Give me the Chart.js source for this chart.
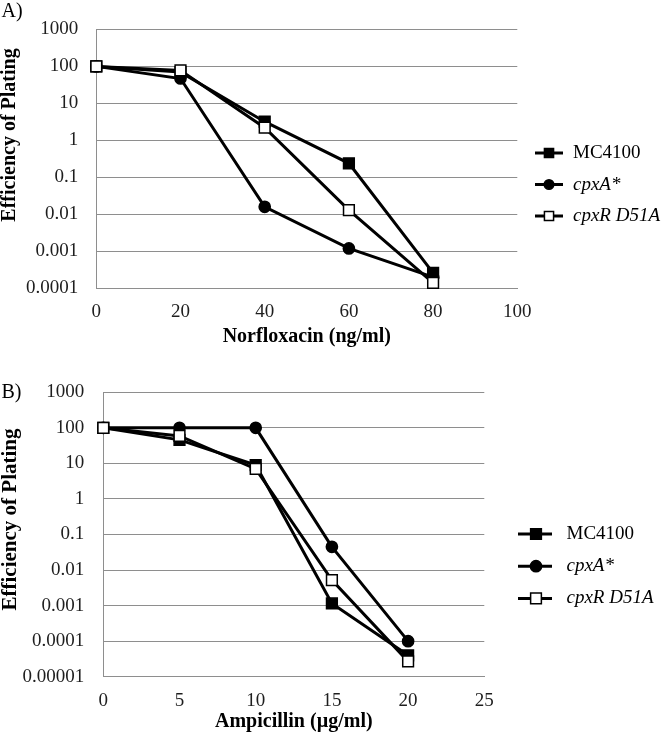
<!DOCTYPE html>
<html>
<head>
<meta charset="utf-8">
<script src="https://cdn.jsdelivr.net/npm/chart.js@4.4.0/dist/chart.umd.min.js"></script>
<style>
  html, body { margin: 0; padding: 0; background: #ffffff; }
  #wrapA { position: absolute; left: 0; top: 0; width: 666px; height: 360px; }
  #wrapB { position: absolute; left: 0; top: 360px; width: 666px; height: 378px; }
  canvas { display: block; }
</style>
</head>
<body>
<div id="wrapA"><canvas id="chartA" width="666" height="360"></canvas></div>
<div id="wrapB"><canvas id="chartB" width="666" height="378"></canvas></div>
<script>
// ---------------- data ----------------
const seriesNames = ['MC4100', 'cpxA*', 'cpxR D51A'];
const seriesItalic = [false, true, true];

// Panel A: Norfloxacin (ng/ml)
const norfloxacinDoses = [0, 20, 40, 60, 80];
const norMC4100 = [100, 70, 3.2, 0.24, 0.00026];
const norCpxA   = [100, 47, 0.016, 0.0012, 0.0002];
const norCpxR   = [100, 78, 2.2, 0.013, 0.00014];
const xTicksA = [0, 20, 40, 60, 80, 100];
const yTicksA = [0.0001, 0.001, 0.01, 0.1, 1, 10, 100, 1000];
const yTickLabelsA = ['0.0001', '0.001', '0.01', '0.1', '1', '10', '100', '1000'];

// Panel B: Ampicillin (µg/ml)
const ampicillinDoses = [0, 5, 10, 15, 20];
const ampMC4100 = [100, 46, 9, 0.00115, 0.00004];
const ampCpxA   = [100, 100, 100, 0.045, 0.0001];
const ampCpxR   = [100, 59, 7, 0.0052, 0.000027];
const xTicksB = [0, 5, 10, 15, 20, 25];
const yTicksB = [0.00001, 0.0001, 0.001, 0.01, 0.1, 1, 10, 100, 1000];
const yTickLabelsB = ['0.00001', '0.0001', '0.001', '0.01', '0.1', '1', '10', '100', '1000'];

// ---------------- styles ----------------
const SERIF = '"Liberation Serif", "Times New Roman", serif';
const GRID = '#8e8e8e';
const TICK_COLOR = '#1e1e1e';
const seriesPointStyle = ['rect', 'circle', 'rect'];
const seriesPointRadius = [7.6, 5.6, 7.6];
const seriesFill = ['#000000', '#000000', '#ffffff'];
const seriesOrder = [2, 1, 0];

const decorPlugin = {
  id: 'decor',
  afterDraw(chart, args, o) {
    const ctx = chart.ctx;
    ctx.save();
    // panel letter
    ctx.fillStyle = '#000';
    ctx.font = '20px ' + SERIF;
    ctx.textAlign = 'left';
    ctx.textBaseline = 'alphabetic';
    ctx.fillText(o.panel, o.panelX, o.panelY);
    // y-axis title
    ctx.save();
    ctx.translate(o.yTitleX, o.yTitleY);
    ctx.rotate(-Math.PI / 2);
    ctx.font = 'bold ' + o.yTitleSize + 'px ' + SERIF;
    ctx.textAlign = 'center';
    ctx.textBaseline = 'middle';
    ctx.fillText(o.yTitle, 0, 0);
    ctx.restore();
    // legend
    chart.data.datasets.forEach((ds, i) => {
      const y = o.legFirstY + i * o.legGap;
      ctx.beginPath();
      ctx.strokeStyle = '#000';
      ctx.lineWidth = 3;
      ctx.moveTo(o.legLineLeft, y);
      ctx.lineTo(o.legLineRight, y);
      ctx.stroke();
      ctx.fillStyle = ds.pointBackgroundColor;
      ctx.strokeStyle = ds.pointBorderColor;
      ctx.lineWidth = ds.pointBorderWidth;
      Chart.helpers.drawPoint(ctx, {
        pointStyle: ds.pointStyle,
        radius: ds.pointRadius * o.legMarkerScale,
        rotation: 0,
        borderWidth: ds.pointBorderWidth
      }, o.legMarkerX, y);
      ctx.fillStyle = '#000';
      ctx.font = (seriesItalic[i] ? 'italic ' : '') + '19px ' + SERIF;
      ctx.textAlign = 'left';
      ctx.textBaseline = 'middle';
      ctx.fillText(ds.label, o.legTextX, y);
    });
    ctx.restore();
  }
};

function buildChart(p) {
  const datasets = seriesNames.map((name, i) => ({
    label: name,
    data: p.doses.map((x, j) => ({ x: x, y: p.series[i][j] })),
    borderColor: '#000000',
    borderWidth: 3,
    pointStyle: seriesPointStyle[i],
    pointRadius: seriesPointRadius[i],
    pointBackgroundColor: seriesFill[i],
    pointBorderColor: '#000000',
    pointBorderWidth: 1.5,
    order: seriesOrder[i],
    clip: false,
    tension: 0,
    fill: false
  }));
  return new Chart(document.getElementById(p.canvas), {
    type: 'line',
    data: { datasets: datasets },
    options: {
      responsive: false,
      animation: false,
      devicePixelRatio: 1,
      layout: { padding: { top: p.padTop, right: p.padRight, bottom: 0, left: 0 } },
      plugins: {
        legend: { display: false },
        tooltip: { enabled: false },
        decor: p.decor
      },
      scales: {
        x: {
          type: 'linear',
          min: p.xTicks[0],
          max: p.xTicks[p.xTicks.length - 1],
          afterBuildTicks: (s) => { s.ticks = p.xTicks.map(v => ({ value: v })); },
          ticks: {
            font: { family: SERIF, size: 19 },
            color: TICK_COLOR,
            padding: p.xTickPad,
            maxRotation: 0,
            autoSkip: false
          },
          grid: { display: false, drawTicks: false },
          border: { display: true, color: GRID, width: 1 },
          title: {
            display: true,
            text: p.xTitle,
            color: '#000',
            font: { family: SERIF, size: 20, weight: 'bold', lineHeight: 1.2 },
            padding: { top: 0, bottom: p.xTitlePad }
          },
          afterFit: (s) => { s.height = p.xAxisH; }
        },
        y: {
          type: 'logarithmic',
          min: p.yTicks[0],
          max: p.yTicks[p.yTicks.length - 1],
          afterBuildTicks: (s) => { s.ticks = p.yTicks.map(v => ({ value: v })); },
          ticks: {
            callback: (v, i) => p.yLabels[i],
            font: { family: SERIF, size: 19 },
            color: TICK_COLOR,
            padding: p.yTickPad,
            autoSkip: false
          },
          grid: { color: GRID, lineWidth: 1, drawTicks: false },
          border: { display: true, color: GRID, width: 1 },
          afterFit: (s) => { s.width = p.yAxisW; }
        }
      }
    },
    plugins: [decorPlugin]
  });
}

buildChart({
  canvas: 'chartA',
  doses: norfloxacinDoses,
  series: [norMC4100, norCpxA, norCpxR],
  xTicks: xTicksA, yTicks: yTicksA, yLabels: yTickLabelsA,
  xTitle: 'Norfloxacin (ng/ml)',
  padTop: 8, padRight: 148.7, yAxisW: 96.3, xAxisH: 71.7,
  xTickPad: 12.5, yTickPad: 18, xTitlePad: 11.5,
  decor: {
    panel: 'A)', panelX: 1.5, panelY: 16.5,
    yTitle: 'Efficiency of Plating', yTitleX: 10, yTitleY: 135, yTitleSize: 20,
    legLineLeft: 535, legLineRight: 563, legMarkerX: 549, legTextX: 573,
    legFirstY: 153, legGap: 31.5, legMarkerScale: 0.85
  }
});

buildChart({
  canvas: 'chartB',
  doses: ampicillinDoses,
  series: [ampMC4100, ampCpxA, ampCpxR],
  xTicks: xTicksB, yTicks: yTicksB, yLabels: yTickLabelsB,
  xTitle: 'Ampicillin (µg/ml)',
  padTop: 32.3, padRight: 181.7, yAxisW: 103.3, xAxisH: 61.3,
  xTickPad: 12.5, yTickPad: 19, xTitlePad: 4.5,
  decor: {
    panel: 'B)', panelX: 1.5, panelY: 37.5,
    yTitle: 'Efficiency of Plating', yTitleX: 11, yTitleY: 159.5, yTitleSize: 21,
    legLineLeft: 518, legLineRight: 552, legMarkerX: 536, legTextX: 566.5,
    legFirstY: 174, legGap: 32.2, legMarkerScale: 1
  }
});
</script>
</body>
</html>
